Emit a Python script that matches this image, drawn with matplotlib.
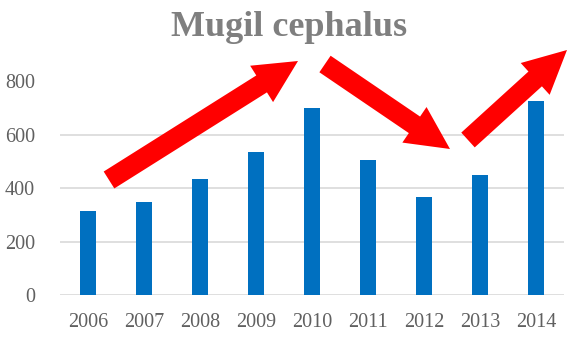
import matplotlib.pyplot as plt
import matplotlib.patches as mpatches

# Yearly catch for Mugil cephalus
years = ['2006', '2007', '2008', '2009', '2010', '2011', '2012', '2013', '2014']
catch = [316, 350, 433, 537, 699, 506, 366, 449, 728]
y_ticks = [0, 200, 400, 600, 800]

# Trend arrows: (tail x, tail y, tip x, tip y) in figure pixels, y measured from the top
trend_arrows = [
    (109, 180, 298, 61),
    (325, 64, 450, 149),
    (468, 140, 567, 50),
]

W, H = 568, 340
fig = plt.figure(figsize=(W / 100, H / 100), dpi=100)
ax = fig.add_axes([60 / W, 45 / H, 504 / W, 213.5 / H])

text_grey = '#606060'
serif = ['Liberation Serif', 'DejaVu Serif']

ax.bar(range(len(years)), catch, width=0.3, color='#0070C0', zorder=3)
ax.set_xlim(-0.5, len(years) - 0.5)
ax.set_ylim(0, 800)
ax.set_yticks(y_ticks)
ax.set_xticks(range(len(years)))
ax.set_xticklabels(years)
ax.grid(axis='y', color='#d9d9d9', linewidth=1.2, zorder=0)
for s in ax.spines.values():
    s.set_visible(False)
ax.tick_params(length=0, pad=13, labelsize=14.5, labelcolor=text_grey)
ax.tick_params(axis='y', pad=18)
for lab in ax.get_xticklabels() + ax.get_yticklabels():
    lab.set_family(serif)

fig.text(289 / W, 1 - 28 / H, 'Mugil cephalus', ha='center', va='center',
         fontsize=26, fontweight='bold', color='#7f7f7f', family=serif)

# overlay in pixel units for the red block arrows
ov = fig.add_axes([0, 0, 1, 1])
ov.set_xlim(0, W)
ov.set_ylim(H, 0)
ov.axis('off')
for x0, y0, x1, y1 in trend_arrows:
    ov.add_patch(mpatches.FancyArrow(x0, y0, x1 - x0, y1 - y0, width=20,
                                     head_width=43, head_length=43,
                                     length_includes_head=True,
                                     color='#ff0000', linewidth=0))

fig.savefig('out.png', dpi=100)
